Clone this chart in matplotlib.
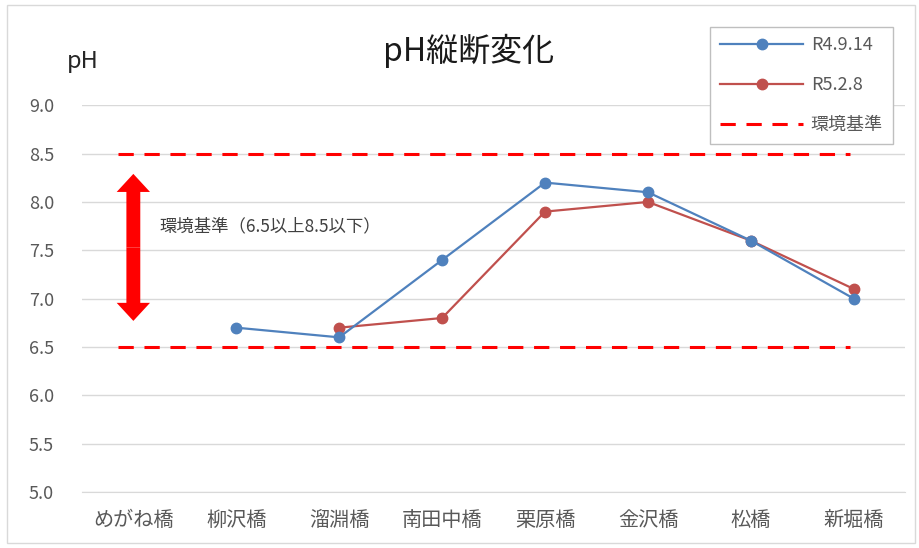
import numpy as np
import matplotlib.pyplot as plt
from matplotlib.patches import FancyArrowPatch, Rectangle

plt.rcParams['font.family'] = ['Noto Sans CJK JP', 'DejaVu Sans']

# data
sites = ["めがね橋", "柳沢橋", "溜淵橋", "南田中橋", "栗原橋", "金沢橋", "松橋", "新堀橋"]
ph_r4 = [np.nan, 6.7, 6.6, 7.4, 8.2, 8.1, 7.6, 7.0]
ph_r5 = [np.nan, np.nan, 6.7, 6.8, 7.9, 8.0, 7.6, 7.1]
std_low = 6.5
std_high = 8.5
yticks = [5.0, 5.5, 6.0, 6.5, 7.0, 7.5, 8.0, 8.5, 9.0]

fig = plt.figure(figsize=(9.2, 5.48), dpi=100)
ax = fig.add_axes([0.089, 0.102, 0.895, 0.706])

x = np.arange(len(sites))
ax.plot(x, ph_r4, color="#4F81BD", marker="o", markersize=7.5, lw=1.6, label="R4.9.14", zorder=4)
ax.plot(x, ph_r5, color="#C0504D", marker="o", markersize=7.5, lw=1.6, label="R5.2.8", zorder=3)
ax.plot([-0.15, 6.96], [std_high, std_high], color="#FF0000", lw=2.2, ls=(0, (5, 3.5)), label="環境基準", zorder=2)
ax.plot([-0.15, 6.96], [std_low, std_low], color="#FF0000", lw=2.2, ls=(0, (5, 3.5)), zorder=2)

# double arrow (two arrows from the middle)
mid = 7.53
for end in (8.29, 6.77):
    arr = FancyArrowPatch((0, mid), (0, end),
                          arrowstyle="simple,head_length=13,head_width=24,tail_width=10",
                          mutation_scale=1, color="#FF0000", lw=0, zorder=5,
                          shrinkA=0, shrinkB=0)
    ax.add_patch(arr)
ax.text(0.25, 7.75, "環境基準（6.5以上8.5以下）", fontsize=12.5, color="#404040", va="center", ha="left")

ax.set_xlim(-0.5, 7.5)
ax.set_ylim(5.0, 9.0)
ax.set_yticks(yticks)
ax.set_yticklabels([f"{v:.1f}" for v in yticks], fontsize=13, color="#595959")
ax.set_xticks(x)
ax.set_xticklabels(sites, fontsize=14.5, color="#595959")
ax.tick_params(axis="y", length=0, pad=20)
ax.tick_params(axis="x", length=0, pad=13)
ax.grid(axis="y", color="#D9D9D9", lw=1)
ax.set_axisbelow(True)
for s in ["top", "right", "left"]:
    ax.spines[s].set_visible(False)
ax.spines["bottom"].set_color("#D9D9D9")

fig.text(0.509, 0.908, "pH縦断変化", fontsize=23, ha="center", va="center", color="#1a1a1a")
fig.text(0.073, 0.887, "pH", fontsize=17, ha="left", va="center", color="#262626")

handles, labels = ax.get_legend_handles_labels()
leg = fig.legend(handles, labels, loc="upper right", bbox_to_anchor=(0.980, 0.968), fontsize=13,
                 frameon=True, fancybox=False, edgecolor="#BFBFBF", framealpha=1, handlelength=4.6,
                 labelspacing=1.2, borderpad=0.55, handletextpad=0.4, labelcolor="#595959")
leg.get_frame().set_linewidth(1)

fig.patches.append(Rectangle((0.0076, 0.009), 0.987, 0.982, transform=fig.transFigure,
                             fill=False, edgecolor="#D9D9D9", lw=1))

fig.savefig("out.png", dpi=100)
